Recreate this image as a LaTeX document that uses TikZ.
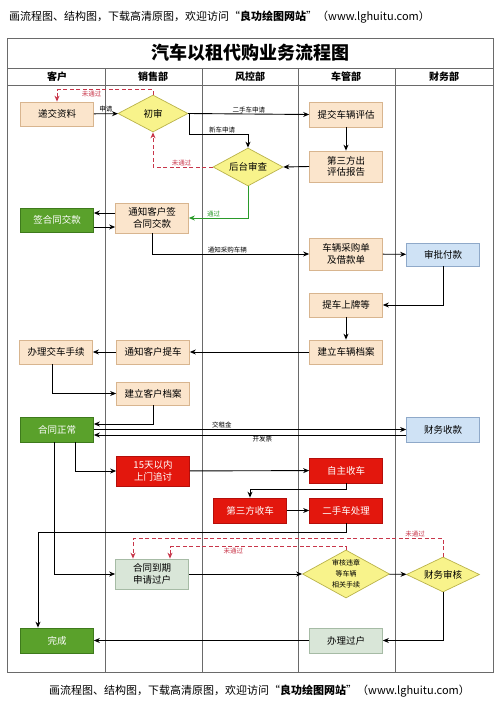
\documentclass[tikz,border=0pt]{standalone}
\usepackage{fontspec}
\setmainfont{Noto Sans CJK SC}
\usetikzlibrary{shapes.geometric,arrows.meta}

\definecolor{peach}{HTML}{FBE5CC}
\definecolor{peachline}{HTML}{D8B58F}
\definecolor{grn}{HTML}{5AA12B}
\definecolor{grnline}{HTML}{3E7A1C}
\definecolor{rd}{HTML}{E3170D}
\definecolor{rdline}{HTML}{B50E0A}
\definecolor{blu}{HTML}{CFE2F5}
\definecolor{bluline}{HTML}{8FA9C9}
\definecolor{gry}{HTML}{D9E6D8}
\definecolor{gryline}{HTML}{A6BBA5}
\definecolor{yel}{HTML}{F8F38B}
\definecolor{yelline}{HTML}{B9B24A}
\definecolor{nogo}{HTML}{C8364A}
\definecolor{okgreen}{HTML}{2A9A2A}
\definecolor{lane}{HTML}{6A6A6A}

\begin{document}
\begin{tikzpicture}[x=1pt, y=-1pt, >={Stealth[length=6pt,width=5pt]},
  every node/.style={font=\fontsize{9.5}{11.5}\selectfont, align=center, inner sep=1pt},
  base/.style={draw, line width=0.7pt, minimum width=73pt, minimum height=24pt},
  pbox/.style={base, draw=peachline, fill=peach},
  gbox/.style={base, draw=grnline, fill=grn, text=white},
  rbox/.style={base, draw=rdline, fill=rd, text=white},
  bbox/.style={base, draw=bluline, fill=blu},
  ebox/.style={base, draw=gryline, fill=gry},
  dia/.style={diamond, aspect=2, draw=yelline, fill=yel, line width=0.7pt, inner sep=0pt},
  lbl/.style={font=\fontsize{6.5}{8}\selectfont},
  flow/.style={->, line width=0.9pt},
  nopass/.style={->, nogo, dash pattern=on 4pt off 2.5pt, line width=0.9pt},
  lanetitle/.style={font=\fontsize{10}{12}\selectfont\bfseries}]

  \useasboundingbox (0,0) rectangle (500,707);

  \node[anchor=west, font=\fontsize{11}{13}\selectfont] (top) at (8,17)
    {画流程图、结构图，下载高清原图，欢迎访问“\textbf{良功绘图网站}”（www.lghuitu.com）};
  \node[anchor=west, font=\fontsize{11}{13}\selectfont] (bottom) at (48,691)
    {画流程图、结构图，下载高清原图，欢迎访问“\textbf{良功绘图网站}”（www.lghuitu.com）};

  \draw[lane, line width=0.8pt] (7,38) rectangle (493,672);
  \draw[lane, line width=0.8pt] (7,68) -- (493,68) (7,85) -- (493,85);
  \foreach \x in {105,202,298,395}
    \draw[lane, line width=0.8pt] (\x,68) -- (\x,672);
  \node[font=\fontsize{18}{20}\selectfont\bfseries] (title) at (250,53) {汽车以租代购业务流程图};
  \foreach \x/\t in {57/客户, 153/销售部, 250/风控部, 346/车管部, 444/财务部}
    \node[lanetitle] (h\x) at (\x,77) {\t};

  \foreach \n/\x/\y/\h/\t in {sub/57/114/24/递交资料, eval/346/114.5/25/提交车辆评估,
      rpt/346/166.5/31/第三方出\\评估报告, sign/152/218/30/通知客户签\\合同交款,
      buy/346/254/32/车辆采购单\\及借款单, plate/346/305/24/提车上牌等,
      carf/346/352/24/建立车辆档案, pick/153/352/24/通知客户提车,
      hand/56/352/24/办理交车手续, custf/153/393.5/23/建立客户档案}
    \node[pbox, minimum height=\h] (\n) at (\x,\y) {\t};
  \foreach \n/\x/\y/\h/\t in {pay/57/220/24/签合同交款, norm/57/429.5/25/合同正常, done/57/640.5/25/完成}
    \node[gbox, minimum height=\h] (\n) at (\x,\y) {\t};
  \foreach \n/\x/\y/\h/\t in {chase/153/471/30/15天以内\\上门追讨, self/346/470.5/25/自主收车,
      third/250/510.5/25/第三方收车, used/346/510.5/25/二手车处理}
    \node[rbox, minimum height=\h] (\n) at (\x,\y) {\t};
  \foreach \n/\x/\y/\h/\t in {appr/443/254.5/23/审批付款, recv/443/429.5/25/财务收款}
    \node[bbox, minimum height=\h] (\n) at (\x,\y) {\t};
  \foreach \n/\x/\y/\h/\t in {due/152/574/30/合同到期\\申请过户, xfer/346/640.5/25/办理过户}
    \node[ebox, minimum height=\h] (\n) at (\x,\y) {\t};

  \node[dia, minimum width=70pt, minimum height=37pt] (first) at (153,113.5) {初审};
  \node[dia, minimum width=70pt, minimum height=38pt] (back) at (248,167) {后台审查};
  \node[dia, minimum width=87pt, minimum height=48pt, font=\fontsize{7}{11}\selectfont] (chk) at (346,574)
    {审核违章\\等车辆\\相关手续};
  \node[dia, minimum width=73pt, minimum height=35pt] (fin) at (443,574.5) {财务审核};

  \draw[flow] (sub) -- node[lbl, above] {申请} (first);
  \draw[nopass] (first.north) -- ++(0,-5) -| node[lbl, pos=0.32, below] {未通过} (sub.north);
  \draw[flow] (first.east) -- node[lbl, above] {二手车申请} (eval.west);
  \draw[flow] (first.east) -- ++(1,0) -- ++(0,20.5) -| node[lbl, pos=0.28, above] {新车申请} (back.north);
  \draw[flow] (eval) -- (rpt);
  \draw[flow] (rpt.west) -- (back.east);
  \draw[nopass] (back.west) -| node[lbl, pos=0.26, above] {未通过} (first.south);
  \draw[flow, okgreen] (back.south) |- node[lbl, pos=0.79, above] {通过} (sign.east);
  \draw[flow] ([yshift=5pt]sign.west) -- ([yshift=7pt]pay.east);
  \draw[flow] ([yshift=-7pt]pay.east) -- ([yshift=-9pt]sign.west);
  \draw[flow] (sign.south) |- node[lbl, pos=0.74, above] {通知采购车辆} (buy.west);
  \draw[flow] (buy) -- (appr);
  \draw[flow] (appr.south) |- (plate.east);
  \draw[flow] (plate) -- (carf);
  \draw[flow] (carf) -- (pick);
  \draw[flow] (pick) -- (hand);
  \draw[flow] ([xshift=-4pt]hand.south) |- (custf.west);
  \draw[flow] (custf.south) |- ([yshift=5.5pt]norm.east);
  \draw[flow] (norm.east) -- node[lbl, pos=0.41, above] {交租金} (recv.west);
  \draw[flow] ([yshift=-5.5pt]recv.west) -- node[lbl, pos=0.46, below] {开发票} ([yshift=-5.5pt]norm.east);
  \draw[flow] ([xshift=18pt]norm.south) |- (chase.west);
  \draw[flow] (chase) -- (self);
  \draw[flow] (self.south) -- ++(0,6) -| (third.north);
  \draw[flow] (third) -- (used);
  \draw[flow] (used.south) -- ++(0,9) -| ([xshift=-19pt]done.north);
  \draw[flow] ([xshift=-3pt]norm.south) |- (due.west);
  \draw[flow] (due.east) -- (chk.west);
  \draw[flow] (chk) -- (fin);
  \draw[flow] (fin.south) |- (xfer.east);
  \draw[flow] (xfer.west) -- (done.east);
  \draw[nopass] (fin.north) -- ++(0,-18) -| node[lbl, pos=0.045, above] {未通过} ([xshift=-19pt]due.north);
  \draw[nopass] (chk.north) -- ++(0,-3) -| node[lbl, pos=0.32, below] {未通过} ([xshift=18pt]due.north);
\end{tikzpicture}
\end{document}
